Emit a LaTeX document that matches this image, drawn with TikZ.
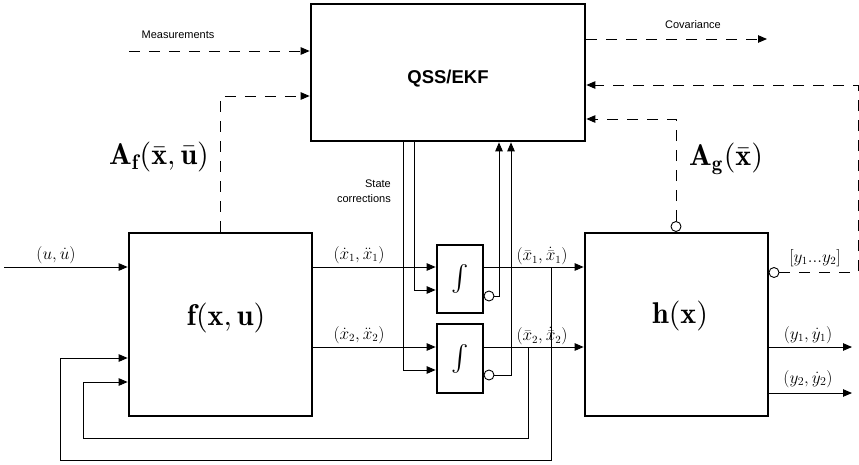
\documentclass[tikz,border=0pt]{standalone}
\usepackage{graphicx}
\usepackage{fontspec}
\newfontfamily\lsans{Liberation Sans}
\usetikzlibrary{arrows.meta}
\begin{document}
\begin{tikzpicture}[x=1pt,y=-1pt,
  box/.style={draw, line width=2.7pt, inner sep=0pt},
  arr/.style={line width=0.9pt, -{Triangle[length=9pt,width=7.5pt]}},
  darr/.style={arr, dash pattern=on 11pt off 9pt},
  bubble/.style={circle, draw, line width=0.9pt, fill=white, inner sep=0pt, minimum size=10pt},
  sl/.style={font=\lsans\fontsize{11}{15}\selectfont, inner sep=0pt},
  ml/.style={font=\fontsize{16}{19}\selectfont, inner sep=0pt},
  bl/.style={inner sep=0pt}]
\useasboundingbox (0,0) rectangle (859,464);

% blocks
\node[box, minimum width=274pt, minimum height=137pt] (qss) at (448,72.5) {};
\node[font=\lsans\bfseries\fontsize{18.5}{22}\selectfont, inner sep=0pt] (qsslabel) at (448,79) {QSS/EKF};
\node[box, minimum width=183pt, minimum height=183pt] (f) at (220.5,324.5) {};
\node[box, minimum width=183pt, minimum height=183pt] (h) at (676.5,324.5) {};
\node[box, minimum width=46pt, minimum height=68pt] (int1) at (460,279) {\scalebox{2.6}{$\int$}};
\node[box, minimum width=46pt, minimum height=69pt] (int2) at (460,358.5) {\scalebox{2.6}{$\int$}};

% big labels
\node[bl] (lf) at (226,318) {\scalebox{3.0}{$\mathbf{f}(\mathbf{x},\mathbf{u})$}};
\node[bl] (lh) at (680,316) {\scalebox{3.0}{$\mathbf{h}(\mathbf{x})$}};
\node[bl] (laf) at (159,157) {\scalebox{3.0}{$\mathbf{A}_{\mathbf{f}}(\bar{\mathbf{x}},\bar{\mathbf{u}})$}};
\node[bl] (lag) at (726,159) {\scalebox{3.0}{$\mathbf{A}_{\mathbf{g}}(\bar{\mathbf{x}})$}};

% small labels
\node[ml] (lu) at (56,255) {$(u,\dot{u})$};
\node[ml] (lx1) at (359,255) {$(\dot{x}_1,\ddot{x}_1)$};
\node[ml] (lx2) at (359,335) {$(\dot{x}_2,\ddot{x}_2)$};
\node[ml] (lb1) at (542,256) {$(\bar{x}_1,\dot{\bar{x}}_1)$};
\node[ml] (lb2) at (542,336) {$(\bar{x}_2,\dot{\bar{x}}_2)$};
\node[ml] (ly1) at (808,335) {$(y_1,\dot{y}_1)$};
\node[ml, font=\fontsize{18}{22}\selectfont] (ly2) at (808,379) {$(y_2,\dot{y}_2)$};
\node[ml] (lyy) at (815,258) {$[y_1...y_2]$};
\node[sl] (lm) at (178,35) {Measurements};
\node[sl] (lc) at (693,25) {Covariance};
\node[sl, align=right, anchor=east] (lsc) at (391,191) {State\\corrections};

% solid connectors
\coordinate (uin) at (4,267);
\draw[arr] (uin) -- (uin -| f.west);
\coordinate (ya) at (0,267);
\coordinate (yb) at (0,347);
\draw[arr] (f.east |- ya) -- (int1.west |- ya);
\draw[arr] (f.east |- yb) -- (int2.west |- yb);
\coordinate (sc1) at (414,290);
\coordinate (sc2) at (403,370);
\draw[arr] (qss.south -| sc1) |- (int1.west |- sc1);
\draw[arr] (qss.south -| sc2) |- (int2.west |- sc2);
\node[bubble] (c1) at (489,296) {};
\node[bubble] (c2) at (489,375) {};
\coordinate (r1) at (499,0);
\coordinate (r2) at (511,0);
\draw[arr] (c1.east) -| (qss.south -| r1);
\draw[arr] (c2.east) -| (qss.south -| r2);
\draw[arr] (int1.east |- ya) -- (h.west |- ya);
\draw[arr] (int2.east |- yb) -- (h.west |- yb);
\coordinate (t1) at (551,267);
\coordinate (b1) at (60,460);
\coordinate (fy1) at (0,358);
\draw[arr] (t1) |- (b1) |- (f.west |- fy1);
\coordinate (t2) at (528,347);
\coordinate (b2) at (83,438);
\coordinate (fy2) at (0,382);
\draw[arr] (t2) |- (b2) |- (f.west |- fy2);
\coordinate (o1) at (852,347);
\coordinate (o2) at (852,393);
\draw[arr] (h.east |- o1) -- (o1);
\draw[arr] (h.east |- o2) -- (o2);

% dashed connectors
\coordinate (ms) at (129,51);
\draw[darr] (ms) -- (qss.west |- ms);
\coordinate (af) at (0,96);
\draw[darr] (f.north) |- (qss.west |- af);
\coordinate (cv) at (767,39);
\draw[darr] (qss.east |- cv) -- (cv);
\node[bubble] (g1) at (676,226.5) {};
\coordinate (ag) at (0,119);
\draw[darr] (g1.north) |- (qss.east |- ag);
\node[bubble] (g2) at (774,272.5) {};
\coordinate (rc) at (858,85);
\draw[darr] (g2.east) -| (rc) -- (qss.east |- rc);
\end{tikzpicture}
\end{document}
